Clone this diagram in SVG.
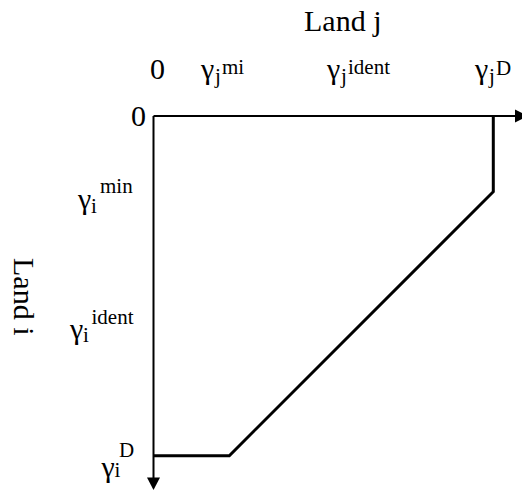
<svg xmlns="http://www.w3.org/2000/svg" width="522" height="492" viewBox="0 0 522 492">
<style>
text{font-family:"Liberation Serif","Times New Roman",serif;fill:#000}
.m{font-size:30px}
.s{font-size:21px}
.axis{stroke:#000;stroke-width:2;fill:none}
.curve{stroke:#000;stroke-width:3;fill:none;stroke-linejoin:miter}
</style>
<rect width="522" height="492" fill="#fff"/>
<g id="connectors">
<line class="axis" x1="153.5" y1="116" x2="516" y2="116"/>
<polygon points="515,109.5 528,116 515,122.5" fill="#000"/>
<line class="axis" x1="153.5" y1="116" x2="153.5" y2="478"/>
<polygon points="147,477.5 160,477.5 153.5,490" fill="#000"/>
<polyline class="curve" points="493.3,116 493.3,191.7 229.3,455.7 153.5,455.7"/>
</g>
<g id="land-j"><text class="m" x="304" y="31">Land j</text></g>
<g id="land-i"><text class="m" transform="translate(14,258) rotate(90)">Land i</text></g>
<g id="zero-top"><text class="m" x="150" y="79">0</text></g>
<g id="zero-left"><text class="m" x="131" y="126">0</text></g>
<g id="gj-mi"><text class="m" x="201" y="79">γ</text><text class="s" x="215" y="83">j</text><text class="s" x="222" y="74">mi</text></g>
<g id="gj-ident"><text class="m" x="327" y="79">γ</text><text class="s" x="341" y="83">j</text><text class="s" x="348" y="74">ident</text></g>
<g id="gj-D"><text class="m" x="475" y="79">γ</text><text class="s" x="489" y="83">j</text><text class="s" x="496" y="75">D</text></g>
<g id="gi-min"><text class="m" x="78" y="209">γ</text><text class="s" x="91" y="213">i</text><text class="s" x="100" y="193">min</text></g>
<g id="gi-ident"><text class="m" x="70" y="339">γ</text><text class="s" x="83" y="342">i</text><text class="s" x="91.5" y="324">ident</text></g>
<g id="gi-D"><text class="m" x="101.5" y="477">γ</text><text class="s" x="114.5" y="477">i</text><text class="s" x="119" y="457">D</text></g>
</svg>
